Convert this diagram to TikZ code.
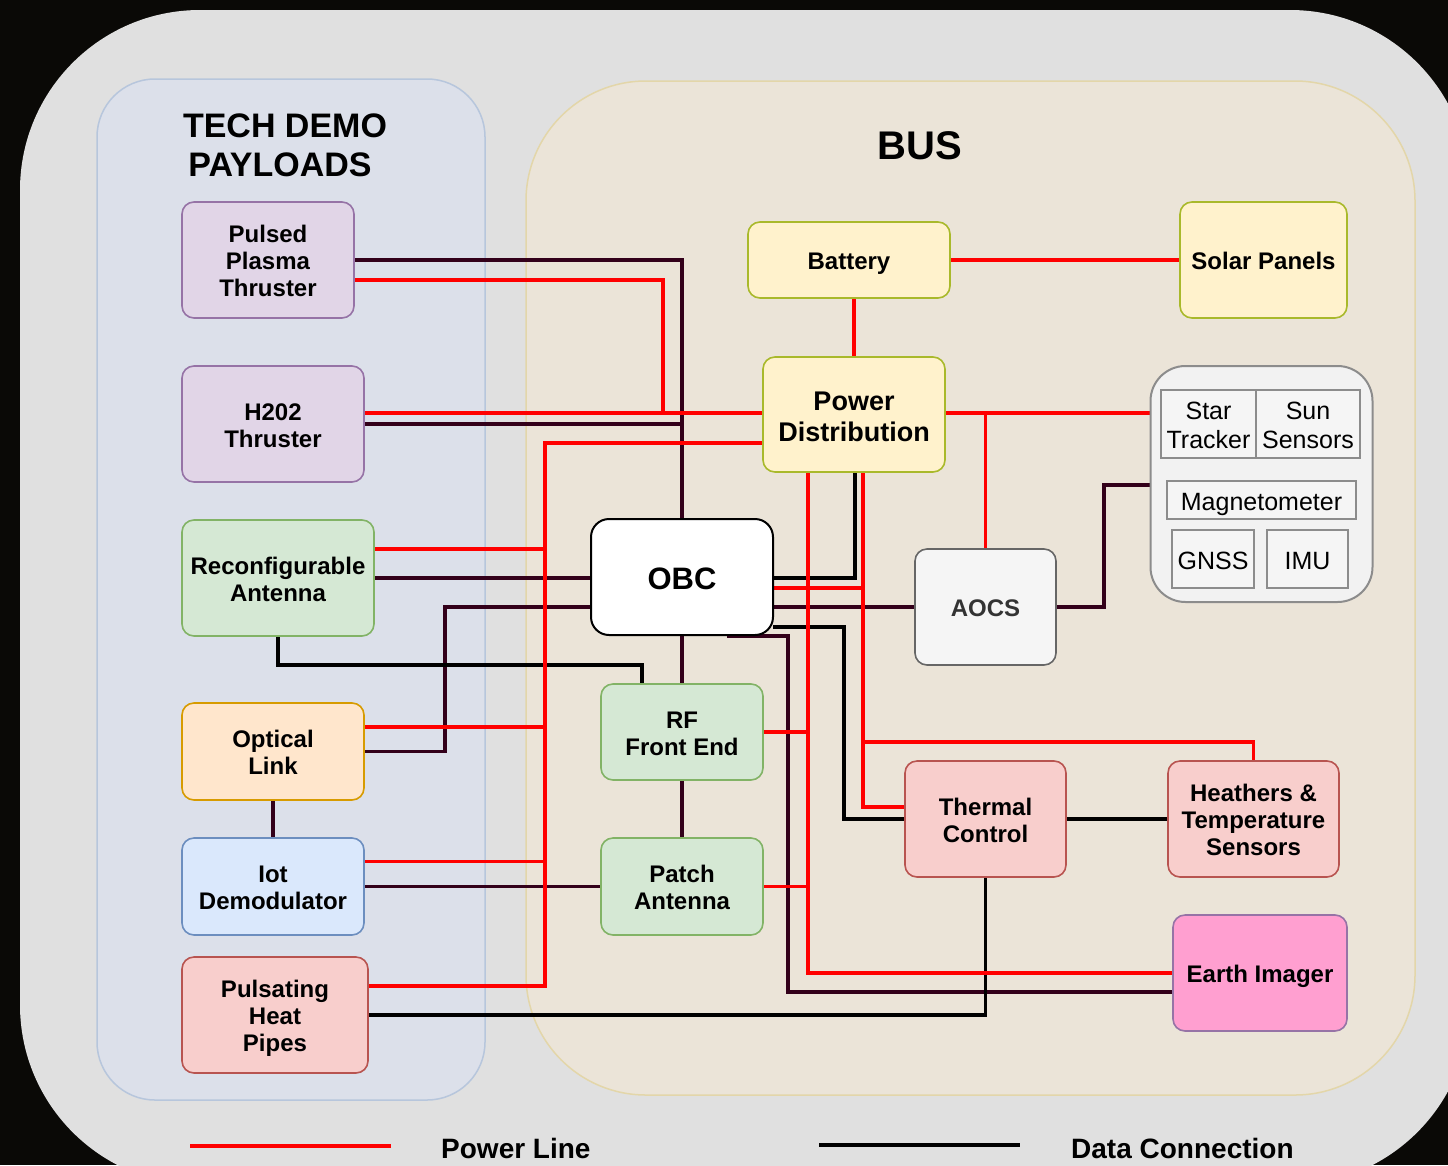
\documentclass[tikz,border=0pt]{standalone}
\usepackage{fontspec}
\setmainfont{Liberation Sans}
\usetikzlibrary{calc}

\pgfdeclarelayer{back}
\pgfdeclarelayer{wires}
\pgfsetlayers{back,wires,main}

\definecolor{pagebg}{HTML}{0A0906}
\definecolor{outerfill}{HTML}{E0E0E0}
\definecolor{techfill}{HTML}{DCE0EA}
\definecolor{techdraw}{HTML}{B7C6DC}
\definecolor{busfill}{HTML}{EBE4D8}
\definecolor{busdraw}{HTML}{E3D6A9}
\definecolor{purpfill}{HTML}{E1D5E7}
\definecolor{purpdraw}{HTML}{9673A6}
\definecolor{grnfill}{HTML}{D5E8D4}
\definecolor{grndraw}{HTML}{82B366}
\definecolor{orgfill}{HTML}{FFE6CC}
\definecolor{orgdraw}{HTML}{D79B00}
\definecolor{blufill}{HTML}{DAE8FC}
\definecolor{bludraw}{HTML}{6C8EBF}
\definecolor{redfill}{HTML}{F8CECC}
\definecolor{reddraw}{HTML}{B85450}
\definecolor{yelfill}{HTML}{FFF2CC}
\definecolor{yeldraw}{HTML}{A9B92B}
\definecolor{gryfill}{HTML}{F5F5F5}
\definecolor{grydraw}{HTML}{666666}
\definecolor{grptfill}{HTML}{F2F2F2}
\definecolor{grpdraw}{HTML}{8C8C8C}
\definecolor{pinkfill}{HTML}{FF9FD0}
\definecolor{powred}{HTML}{FF0000}
\definecolor{datawire}{HTML}{33001A}
\definecolor{aocstext}{HTML}{333333}

\newcommand{\boxfnt}{\fontsize{24}{27}\selectfont\bfseries}
\newcommand{\subfnt}{\fontsize{25}{29}\selectfont}
% tall strut for the first line of a stacked label
\newcommand{\tstrut}{\rule{0pt}{1.07em}}

\tikzset{
  % fixed struts so every label sits on the same optical centre line
  evenlines/.style={execute at begin node={\rule{0pt}{1.05em}},
    execute at end node={\rule[-0.25em]{0pt}{0pt}}},
  box/.style={draw, rounded corners=12pt, line width=1.6pt, align=center,
    inner sep=2pt, font=\boxfnt, evenlines},
  dims/.style 2 args={minimum width=#1pt, minimum height=#2pt},
  purp/.style={box, fill=purpfill, draw=purpdraw},
  grn/.style={box, fill=grnfill, draw=grndraw},
  org/.style={box, fill=orgfill, draw=orgdraw},
  blu/.style={box, fill=blufill, draw=bludraw},
  rdb/.style={box, fill=redfill, draw=reddraw},
  yel/.style={box, fill=yelfill, draw=yeldraw},
  sub/.style={draw=grpdraw, fill=gryfill, line width=1.6pt, align=center,
    inner sep=0pt, font=\subfnt, evenlines},
  pw/.style={draw=powred, line width=3.8pt},
  dk/.style={draw=datawire, line width=3.5pt},
  bk/.style={draw=black, line width=3.5pt},
}

\begin{document}
\begin{tikzpicture}[x=1pt,y=-1pt]
\useasboundingbox (0,0) rectangle (1448,1165);
\clip (0,0) rectangle (1448,1165);

% ---------- frames ----------
\begin{pgfonlayer}{back}
  \fill[pagebg] (0,0) rectangle (1448,1165);
  \fill[outerfill, rounded corners=180pt] (20,10) rectangle (1470,1185);
  \draw[techdraw, fill=techfill, line width=1.5pt, rounded corners=58pt]
    (97,79) rectangle (485,1100);
  \draw[busdraw, fill=busfill, line width=1.5pt, rounded corners=120pt]
    (526,81) rectangle (1415,1095);
\end{pgfonlayer}

\node[font=\fontsize{34}{39}\selectfont\bfseries, align=center] (tdtitle)
  at (285,145) {TECH DEMO\\PAYLOADS\kern10pt};
\node[font=\fontsize{40}{44}\selectfont\bfseries] (bustitle) at (920,146) {BUS};

% ---------- payload blocks ----------
\node[purp, dims={172}{116}] (ppt)  at (268,260)   {\tstrut Pulsed\\Plasma\\Thruster};
\node[purp, dims={182}{116}] (hto)  at (273,424)   {\tstrut H202\\Thruster};
\node[grn,  dims={192}{116}] (rant) at (278,578)   {\tstrut Reconfigurable\\Antenna};
\node[org,  dims={182}{97}]  (opt)  at (273,751.5) {\tstrut Optical\\Link};
\node[blu,  dims={182}{97}]  (iot)  at (273,886.5) {\tstrut Iot\\Demodulator};
\node[rdb,  dims={186}{116}] (php)  at (275,1015)  {\tstrut Pulsating\\Heat\\Pipes};

% ---------- bus blocks ----------
\node[yel, dims={202}{76}]  (bat) at (849,260)    {Battery};
\node[yel, dims={167}{116}] (sol) at (1263.5,260) {Solar Panels};
\node[yel, dims={182}{115}, font=\fontsize{27}{31}\selectfont\bfseries]
  (pd) at (854,414.5) {\tstrut Power\\Distribution};
\node[box, fill=white, draw=black, line width=2pt, rounded corners=18pt,
  dims={182}{116}, font=\fontsize{31}{34}\selectfont\bfseries]
  (obc) at (682,577) {OBC};
\node[box, fill=gryfill, draw=grydraw, text=aocstext, dims={141}{116}]
  (aocs) at (985.5,607) {AOCS};
\node[grn, dims={162}{96}]  (rf)    at (682,732)    {\tstrut RF\\Front End};
\node[grn, dims={162}{97}]  (patch) at (682,886.5)  {\tstrut Patch\\Antenna};
\node[rdb, dims={161}{116}] (thc)   at (985.5,819)  {\tstrut Thermal\\Control};
\node[rdb, dims={171}{116}] (hts)   at (1253.5,819) {\tstrut Heathers \&\\Temperature\\Sensors};
\node[box, fill=pinkfill, draw=purpdraw, dims={174}{116}]
  (ei) at (1260,973) {Earth Imager};

% ---------- attitude sensor group ----------
\node[draw=grpdraw, fill=grptfill, line width=2pt, rounded corners=35pt,
  minimum width=222pt, minimum height=236pt] (sens) at (1261.5,484) {};
\node[sub, minimum width=95pt,  minimum height=68pt] (st) at (1208.5,424) {\tstrut Star\\Tracker};
\node[sub, minimum width=104pt, minimum height=68pt] (ss) at (1308,424)   {\tstrut Sun\\Sensors};
\node[sub, minimum width=189pt, minimum height=38pt] (mag)  at (1261.5,500) {Magnetometer};
\node[sub, minimum width=82pt,  minimum height=58pt] (gnss) at (1213,559)   {GNSS};
\node[sub, minimum width=81pt,  minimum height=58pt] (imu)  at (1307.5,559) {IMU};

% ---------- ports and bends ----------
\coordinate (pdL1)  at ($(pd.west)+(0,-1.5)$);
\coordinate (pdL2)  at ($(pd.west)+(0,28.5)$);
\coordinate (pdR)   at ($(pd.east)+(0,-1.5)$);
\coordinate (pdB1)  at ($(pd.south)+(-46,0)$);
\coordinate (pdB2)  at ($(pd.south)+(1,0)$);
\coordinate (pdB3)  at ($(pd.south)+(9,0)$);
\coordinate (obcR1) at (773,578);
\coordinate (obcR2) at (773,588);
\coordinate (obcR3) at (773,607);
\coordinate (obcR4) at (773,627);
\coordinate (obcL1) at (591,578);
\coordinate (obcL2) at (591,607);
\coordinate (jppt)  at (663,413);
\coordinate (jpay)  at (545,986);
\coordinate (jheat) at (863,742);
\coordinate (jopt)  at (445,607);
\coordinate (jant)  at (642,665);
\coordinate (jaocs) at (1104,485);
\coordinate (jthc)  at (844,819);
\coordinate (jimg)  at (788,992);

% ---------- connections ----------
\begin{pgfonlayer}{wires}
  % data
  \draw[dk] (ppt.east) -| (obc.north);
  \draw[dk] (hto.east) -| (obc.north);
  \draw[dk] (rant.east) -- (obcL1);
  \draw[dk] (opt.east) -| (jopt) -- (obcL2);
  \draw[bk] (rant.south) |- (jant) -- (jant |- rf.north);
  \draw[dk] (opt.south) -- (iot.north);
  \draw[dk] (iot.east) -- (patch.west);
  \draw[dk] (obc.south) -- (rf.north);
  \draw[dk] (rf.south) -- (patch.north);
  \draw[bk] (obcR1) -| (pdB2);
  \draw[dk] (obcR3) -- (aocs.west);
  \draw[dk] (aocs.east) -| (jaocs) -- (jaocs -| sens.west);
  \draw[bk] (obcR4) -| (jthc) -- (thc.west);
  \draw[dk] ($(obc.south)+(45,0)$) -| (jimg) -- (jimg -| ei.west);
  \draw[bk] (thc.east) -- (hts.west);
  \draw[bk] (thc.south) |- (php.east);
  % power
  \draw[pw] (bat.east) -- (sol.west);
  \draw[pw] (pd.north) -- (pd.north |- bat.south);
  \draw[pw] ($(hto.east)+(0,-11)$) -- (pdL1);
  \draw[pw] ($(ppt.east)+(0,20)$) -| (jppt);
  \draw[pw] (pdL2) -| (jpay) -- ($(php.east)+(0,-29)$);
  \draw[pw] ($(rant.east)+(0,-29)$) -| (jpay);
  \draw[pw] ($(opt.east)+(0,-24.5)$) -| (jpay);
  \draw[pw] ($(iot.east)+(0,-25)$) -| (jpay);
  \draw[pw] (pdR) -- (pdR -| sens.west);
  \draw[pw] (aocs.north) -- (aocs.north |- pdR);
  \draw[pw] (pdB1) |- (ei.west);
  \draw[pw] (rf.east) -| (pdB1);
  \draw[pw] (patch.east) -| (pdB1);
  \draw[pw] (pdB3) |- ($(thc.west)+(0,-12)$);
  \draw[pw] (hts.north) |- (jheat);
  \draw[pw] (obcR2) -| (pdB3);
\end{pgfonlayer}

% ---------- legend ----------
\coordinate (lgp1) at (190,1146);
\coordinate (lgp2) at (391,1146);
\coordinate (lgd1) at (819,1145);
\coordinate (lgd2) at (1020,1145);
\draw[pw] (lgp1) -- (lgp2);
\draw[bk] (lgd1) -- (lgd2);
\node[anchor=west, inner sep=0pt, font=\fontsize{28}{32}\selectfont\bfseries]
  (lgptext) at (441,1148) {Power Line};
\node[anchor=west, inner sep=0pt, font=\fontsize{28}{32}\selectfont\bfseries]
  (lgdtext) at (1071,1148) {Data Connection};
\end{tikzpicture}
\end{document}
